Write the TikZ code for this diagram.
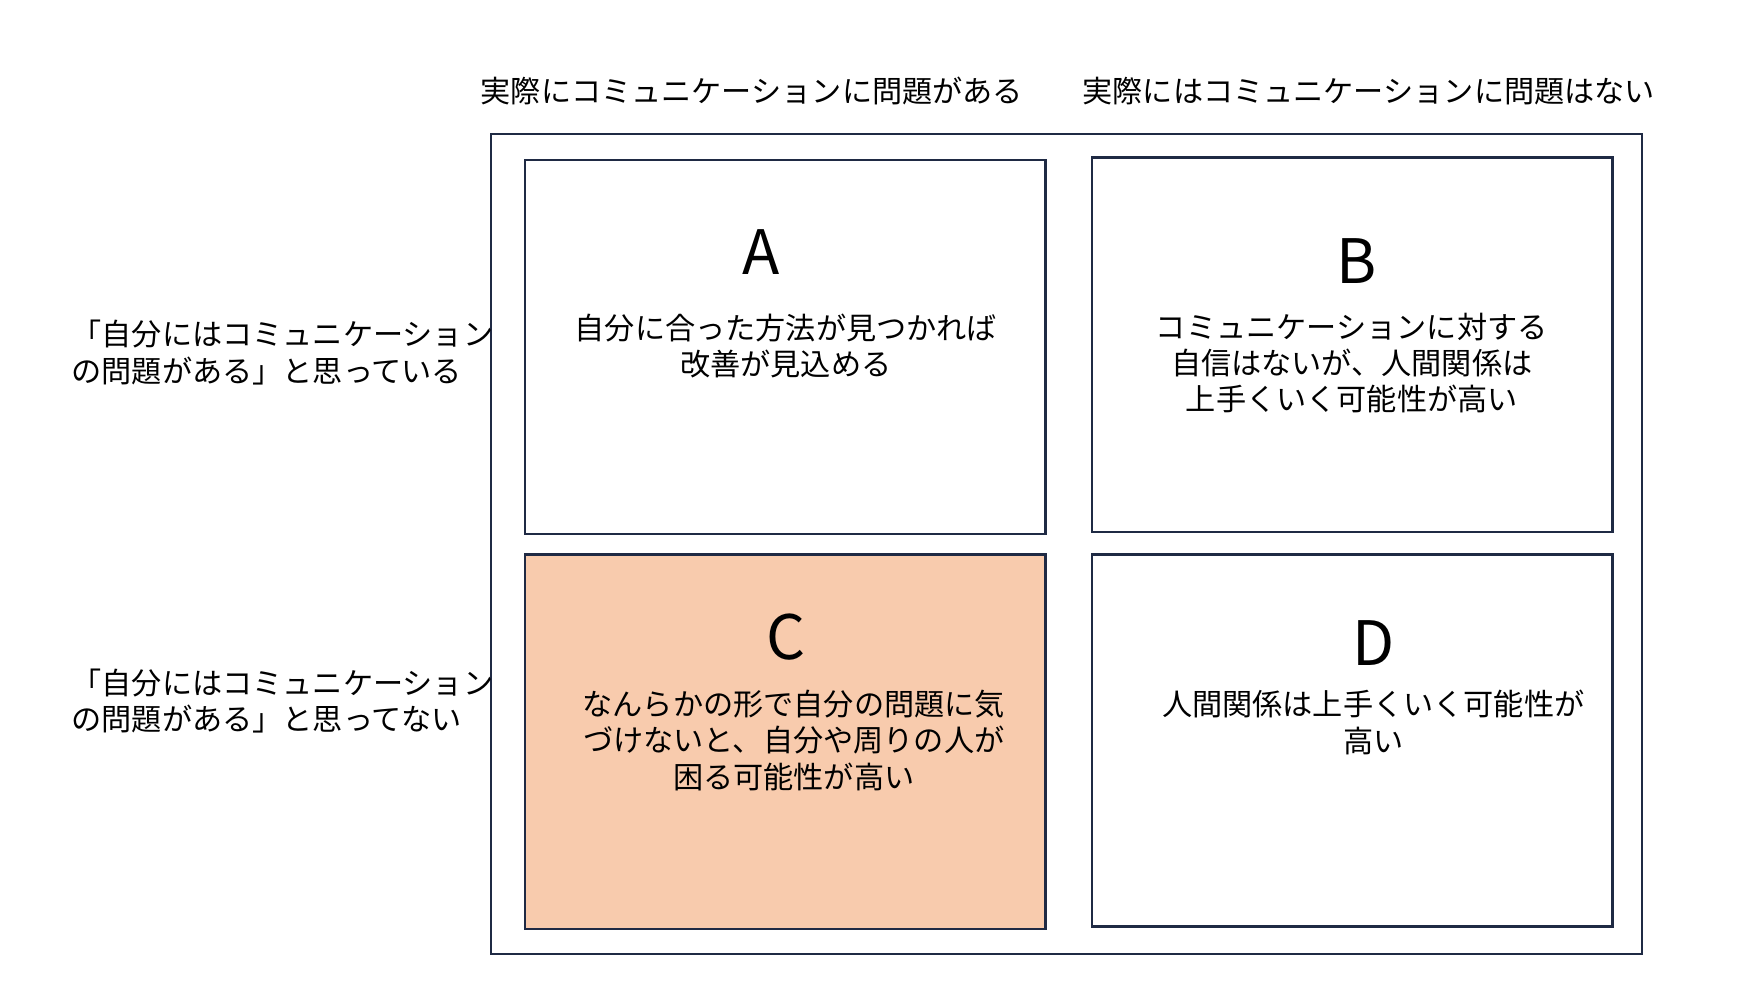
\documentclass[tikz,border=0pt]{standalone}
\usepackage{fontspec}
\setmainfont{Noto Sans CJK JP}
\begin{document}
\begin{tikzpicture}[x=0.5pt,y=-0.5pt]
\definecolor{navy}{HTML}{1F2A44}
\definecolor{peach}{HTML}{F8CBAD}
\tikzset{cell/.style={draw=navy,line width=1pt},
 letter/.style={font=\fontsize{27}{30}\selectfont},
 body/.style={font=\fontsize{13.3}{16}\selectfont,align=center},
 lbl/.style={font=\fontsize{13.3}{16}\selectfont,align=left,anchor=west}}
\useasboundingbox (0,0) rectangle (1552,887);
\draw[cell] (433,118) rectangle (1448,841);
\draw[cell] (463,141) rectangle (922,471);
\draw[cell] (963,139) rectangle (1422,469);
\draw[cell,fill=peach] (463,489) rectangle (922,819);
\draw[cell] (963,489) rectangle (1422,817);
\node[body] (h1) at (663,80) {実際にコミュニケーションに問題がある};
\node[body] (h2) at (1207,80) {実際にはコミュニケーションに問題はない};
\node[lbl] (l1) at (56,311) {「自分にはコミュニケーション\\の問題がある」と思っている};
\node[lbl] (l2) at (56,618) {「自分にはコミュニケーション\\の問題がある」と思ってない};
\node[letter] (a) at (671,222) {A};
\node[body] (at) at (693,305) {自分に合った方法が見つかれば\\改善が見込める};
\node[letter] (b) at (1196,230) {B};
\node[body] (bt) at (1192,320) {コミュニケーションに対する\\自信はないが、人間関係は\\上手くいく可能性が高い};
\node[letter] (c) at (693,562) {C};
\node[body] (ct) at (700,653) {なんらかの形で自分の問題に気\\づけないと、自分や周りの人が\\困る可能性が高い};
\node[letter] (d) at (1211,567) {D};
\node[body] (dt) at (1211,637) {人間関係は上手くいく可能性が\\高い};
\end{tikzpicture}
\end{document}
